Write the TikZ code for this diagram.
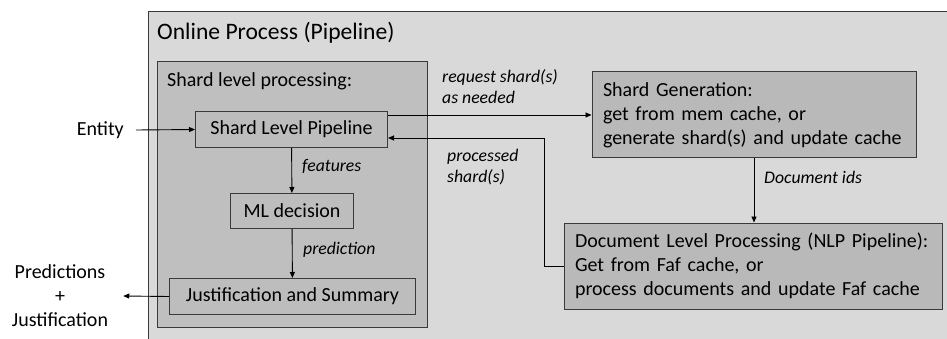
\documentclass[tikz,border=0pt]{standalone}
\usepackage{fontspec}
\setmainfont{Carlito}
\usetikzlibrary{arrows.meta}
\definecolor{outerfill}{HTML}{D9D9D9}
\definecolor{innerfill}{HTML}{BFBFBF}
\definecolor{boxfill}{HTML}{BDBDBD}
\definecolor{bigfill}{HTML}{B9B9B9}
\definecolor{edge}{HTML}{3A3A3A}
\tikzset{
  procbox/.style={draw=edge, line width=1pt, fill=boxfill, inner sep=0pt, anchor=north west,
    font=\fontsize{20}{24}\selectfont},
  bigbox/.style={draw=edge, line width=1pt, fill=bigfill, inner xsep=11pt, inner ysep=0pt,
    align=left, font=\fontsize{20}{24}\selectfont},
  lbl/.style={font=\fontsize{17.7}{21}\selectfont\itshape, inner sep=0pt, anchor=west, align=left},
  plain/.style={font=\fontsize{20}{24}\selectfont, inner sep=0pt},
  conn/.style={draw=black, line width=0.9pt, -{Triangle[length=6pt,width=5pt]}},
}
\begin{document}
\begin{tikzpicture}[x=1pt,y=-1pt]
\useasboundingbox (0,0) rectangle (947,339);
\begin{scope}
\clip (0,0) rectangle (947,339);
\draw[draw=edge, line width=1pt, fill=outerfill] (148,12) rectangle (960,350);
\end{scope}
\node[plain, anchor=west, font=\fontsize{23.6}{26}\selectfont] (title) at (157,33) {Online Process (Pipeline)};
\draw[draw=edge, line width=1pt, fill=innerfill] (157,62) rectangle (427,327);
\node[plain, anchor=west] (slptitle) at (167,81) {Shard level processing:};

\node[procbox, minimum width=192pt, minimum height=36pt] (slp) at (195,111) {Shard Level Pipeline};
\node[procbox, minimum width=123pt, minimum height=35pt] (ml) at (230,193) {ML decision};
\node[procbox, minimum width=246pt, minimum height=36pt] (just) at (169,278) {Justification and Summary};

\node[bigbox, minimum width=324pt, minimum height=86pt, text width=302pt] (sg) at (754,115)
  {Shard Generation:\\get from mem cache, or\\generate shard(s) and update cache};
\node[bigbox, minimum width=378pt, minimum height=86pt, text width=356pt] (dlp) at (753,266)
  {Document Level Processing (NLP Pipeline):\\Get from Faf cache, or\\process documents and update Faf cache};

\node[plain, anchor=east] (entity) at (124,130) {Entity};
\node[plain, align=center] (pred) at (60,296) {Predictions\\+\\Justification};

\coordinate (turn) at (544,138);

\draw[conn] (entity.east) ++(12,0) -- (slp.west);
\draw[conn] (slp) -- (ml);
\draw[conn] (ml) -- (just);
\draw[conn] (just.west) -- ([xshift=15pt]pred.east);
\draw[conn] (slp.east |- sg.west) -- (sg.west);
\draw[conn] (dlp.west) -| (turn) -- (turn -| slp.east);
\draw[conn] (sg.south) -- (sg.south |- dlp.north);

\node[lbl] (lfeat) at (302,166) {features};
\node[lbl] (lpred) at (303,250) {prediction};
\node[lbl] (lreq) at (442,87) {request shard(s)\\as needed};
\node[lbl] (lproc) at (447,167) {processed\\shard(s)};
\node[lbl] (ldoc) at (764,177) {Document ids};
\end{tikzpicture}
\end{document}
